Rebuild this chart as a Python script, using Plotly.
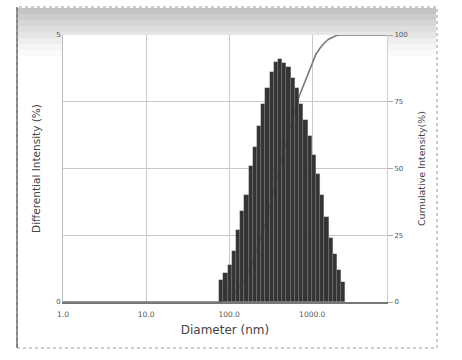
import plotly.graph_objects as go

# --- data ---
bin_edges_nm = [75.9, 85.3, 95.8, 107.7, 121.0, 135.9, 152.7, 171.6, 192.8, 216.6,
                243.4, 273.5, 307.3, 345.3, 388.0, 436.0, 489.9, 550.5, 618.5, 695.0,
                781.0, 877.5, 986.0, 1108, 1245, 1399, 1572, 1766, 1985, 2230, 2506]
diff_intensity = [0.41, 0.55, 0.70, 0.95, 1.35, 1.70, 2.00, 2.55, 2.90, 3.30,
                  3.70, 4.00, 4.30, 4.50, 4.55, 4.48, 4.40, 4.20, 4.00, 3.70,
                  3.40, 3.10, 2.75, 2.40, 2.00, 1.60, 1.20, 0.90, 0.60, 0.37]
cum_diameter = [1.0, 75.9, 85.3, 95.8, 107.7, 121.0, 135.9, 152.7, 171.6, 192.8, 216.6,
                243.4, 273.5, 307.3, 345.3, 388.0, 436.0, 489.9, 550.5, 618.5, 695.0,
                781.0, 877.5, 986.0, 1108, 1245, 1399, 1572, 1766, 1985, 2230, 2506, 7950]
cum_intensity = [0, 0, 0.6, 1.4, 2.5, 3.9, 5.9, 8.4, 11.4, 15.2, 19.5,
                 24.3, 29.7, 35.5, 41.6, 48.0, 54.4, 60.6, 66.5, 72.0, 77.0,
                 81.0, 84.9, 89.1, 92.8, 95.1, 97.0, 98.4, 99.3, 99.9, 100, 100, 100]
x_tickvals = [1, 10, 100, 1000]
x_ticktext = ["1.0", "10.0", "100.0", "1000.0"]
right_tickvals = [0, 25, 50, 75, 100]
left_tickvals = [0, 5]

W, H = 462, 360
L, R, T, B = 63, 75, 35, 58
pw, ph = W - L - R, H - T - B

def px(x):
    return (x - L) / pw

def py(y):
    return (H - B - y) / ph

FONT = "DejaVu Sans"

bar_left = bin_edges_nm[:-1]
bar_width = [b - a for a, b in zip(bin_edges_nm[:-1], bin_edges_nm[1:])]

fig = go.Figure()
fig.add_trace(go.Scatter(x=cum_diameter, y=cum_intensity, mode="lines",
                         line=dict(color="#7a7a7a", width=1.6), yaxis="y",
                         showlegend=False, hoverinfo="skip"))
fig.add_trace(go.Bar(x=bar_left, y=diff_intensity, width=bar_width, offset=0, yaxis="y2",
                     marker=dict(color="#343434", line=dict(color="rgba(170,170,170,0.35)", width=0.5)),
                     showlegend=False))

shapes = []
grads = ["#c4c4c4", "#cdcdcd", "#d6d6d6", "#dedede", "#e6e6e6", "#eeeeee", "#f5f5f5", "#fafafa"]
y_top = 8
step = 6
for i, c in enumerate(grads):
    shapes.append(dict(type="rect", xref="paper", yref="paper", layer="below",
                       x0=px(18), x1=px(436), y0=py(y_top + (i + 1) * step), y1=py(y_top + i * step),
                       fillcolor=c, line=dict(width=0)))
shapes.append(dict(type="rect", xref="paper", yref="paper", layer="below",
                   x0=0, x1=1, y0=0, y1=1, fillcolor="white", line=dict(width=0)))
shapes.append(dict(type="rect", xref="paper", yref="paper", layer="below",
                   x0=px(17), x1=px(437), y0=py(348), y1=py(7),
                   fillcolor="rgba(0,0,0,0)", line=dict(color="#9a9a9a", width=1, dash="dot")))
shapes.append(dict(type="line", xref="paper", yref="paper", layer="below",
                   x0=px(17), x1=px(17), y0=py(348), y1=py(7),
                   line=dict(color="#555", width=1.2)))

fig.update_layout(
    width=W, height=H,
    margin=dict(l=L, r=R, t=T, b=B),
    paper_bgcolor="white", plot_bgcolor="rgba(0,0,0,0)",
    bargap=0,
    shapes=shapes,
    font=dict(family=FONT, color="#555"),
    xaxis=dict(type="log", range=[0, 3.9], tickvals=x_tickvals, ticktext=x_ticktext,
               showgrid=True, gridcolor="#c9c9c9", gridwidth=1,
               showline=True, linecolor="#777", linewidth=1.6, mirror=False,
               ticks="outside", ticklen=4, tickcolor="rgba(0,0,0,0)",
               tickfont=dict(size=7.5, color="#555", family=FONT),
               title=dict(text="Diameter (nm)", font=dict(size=12, color="#444", family=FONT), standoff=8),
               zeroline=False),
    yaxis=dict(range=[0, 100], side="right", tickvals=right_tickvals,
               showgrid=True, gridcolor="#c9c9c9", gridwidth=1,
               showline=True, linecolor="#cfcfcf", linewidth=1,
               ticks="outside", ticklen=5, tickcolor="#aaa",
               tickfont=dict(size=7, color="#555", family=FONT),
               title=dict(text="Cumulative Intensity(%)", font=dict(size=9.5, color="#444", family=FONT), standoff=11),
               zeroline=False),
    yaxis2=dict(range=[0, 5], overlaying="y", side="left", tickvals=left_tickvals,
                showgrid=False, showline=True, linecolor="#bdbdbd", linewidth=1,
                ticks="", tickfont=dict(size=7, color="#555", family=FONT),
                title=dict(text="Differential Intensity (%)", font=dict(size=10.5, color="#444", family=FONT), standoff=13),
                zeroline=False),
)

fig.write_html("out.html")
